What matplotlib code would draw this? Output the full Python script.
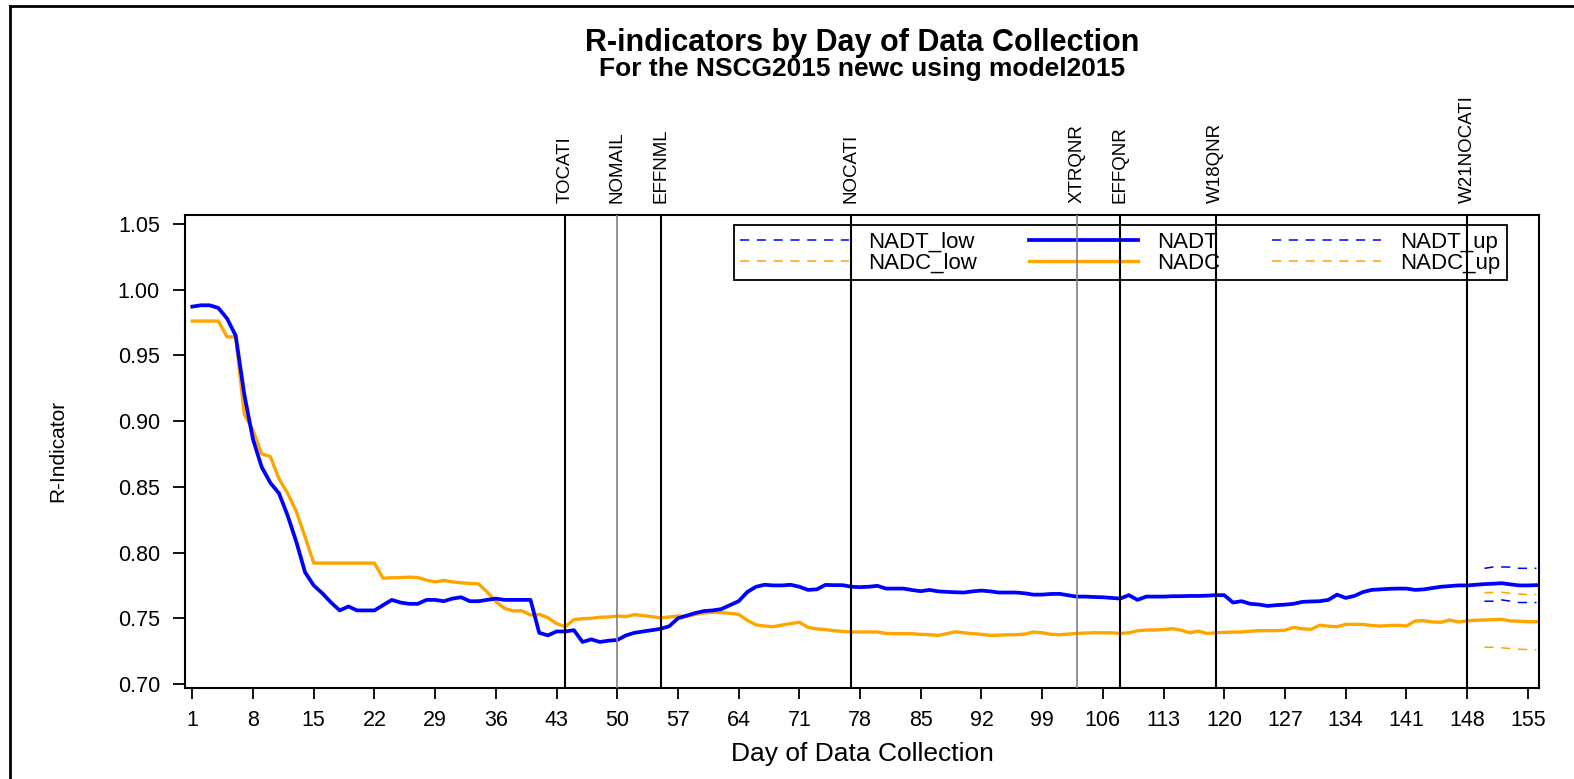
import matplotlib
matplotlib.use("Agg")
import matplotlib.pyplot as plt
from matplotlib.lines import Line2D
import numpy as np

plt.rcParams['font.family'] = ['Liberation Sans', 'DejaVu Sans']

# R-indicator by day (days 1..156)
nadt = [0.987, 0.988, 0.988, 0.986, 0.978, 0.965, 0.920, 0.886, 0.865, 0.853,
        0.845, 0.828, 0.808, 0.785, 0.775, 0.769, 0.762, 0.756, 0.759, 0.756,
        0.756, 0.756, 0.760, 0.764, 0.762, 0.761, 0.761, 0.764, 0.764, 0.763,
        0.765, 0.766, 0.763, 0.763, 0.764, 0.765, 0.764, 0.764, 0.764, 0.764,
        0.739, 0.737, 0.740, 0.740, 0.741, 0.732, 0.734, 0.732, 0.733, 0.7335,
        0.737, 0.739, 0.740, 0.741, 0.742, 0.744, 0.750, 0.752, 0.754, 0.7555,
        0.756, 0.757, 0.760, 0.763, 0.770, 0.774, 0.7755, 0.775, 0.775, 0.7755,
        0.774, 0.7716, 0.772, 0.7754, 0.7752, 0.7752, 0.774, 0.7737, 0.774, 0.7747,
        0.7726, 0.7726, 0.7726, 0.7715, 0.7706, 0.7716, 0.7705, 0.7701, 0.7698, 0.7696,
        0.7705, 0.7711, 0.7705, 0.7696, 0.7696, 0.7696, 0.769, 0.768, 0.768, 0.7685,
        0.7686, 0.7675, 0.7665, 0.7665, 0.7662, 0.766, 0.7655, 0.765, 0.7676, 0.764,
        0.7665, 0.7665, 0.7665, 0.7668, 0.7668, 0.767, 0.767, 0.7672, 0.7676, 0.7676,
        0.762, 0.763, 0.761, 0.7605, 0.7594, 0.760, 0.7604, 0.761, 0.7625, 0.7628,
        0.763, 0.764, 0.768, 0.7655, 0.767, 0.770, 0.7716, 0.772, 0.7724, 0.7726,
        0.7726, 0.7716, 0.772, 0.773, 0.774, 0.7745, 0.775, 0.775, 0.7755, 0.776,
        0.7763, 0.7767, 0.7758, 0.775, 0.775, 0.7752]
nadc = [0.976, 0.976, 0.976, 0.976, 0.964, 0.964, 0.905, 0.893, 0.875, 0.873,
        0.856, 0.845, 0.831, 0.812, 0.792, 0.792, 0.792, 0.792, 0.792, 0.792,
        0.792, 0.792, 0.7805, 0.7808, 0.781, 0.7813, 0.781, 0.779, 0.7777, 0.7788,
        0.7777, 0.777, 0.7765, 0.7762, 0.770, 0.7627, 0.7576, 0.7556, 0.7558, 0.7525,
        0.753, 0.7505, 0.746, 0.7436, 0.749, 0.7497, 0.750, 0.7508, 0.751, 0.7518,
        0.7513, 0.7528, 0.752, 0.7513, 0.7503, 0.751, 0.7518, 0.7513, 0.753, 0.754,
        0.7546, 0.7543, 0.7538, 0.753, 0.7485, 0.745, 0.7441, 0.7436, 0.7449, 0.746,
        0.747, 0.7431, 0.742, 0.7414, 0.7406, 0.740, 0.7396, 0.7396, 0.7396, 0.7396,
        0.7385, 0.7383, 0.7383, 0.7383, 0.7378, 0.7375, 0.737, 0.7383, 0.7398, 0.739,
        0.7383, 0.7378, 0.737, 0.7372, 0.7375, 0.7375, 0.738, 0.7396, 0.739, 0.7378,
        0.7375, 0.738, 0.7385, 0.7388, 0.739, 0.739, 0.739, 0.7385, 0.739, 0.7405,
        0.7411, 0.7411, 0.7415, 0.7421, 0.741, 0.739, 0.7403, 0.7385, 0.739, 0.7393,
        0.7395, 0.7396, 0.7402, 0.7406, 0.7406, 0.7406, 0.741, 0.7431, 0.742, 0.7416,
        0.7447, 0.744, 0.7436, 0.7454, 0.7454, 0.7454, 0.7445, 0.7441, 0.7445, 0.7447,
        0.7441, 0.748, 0.7482, 0.7472, 0.747, 0.7487, 0.7472, 0.748, 0.7485, 0.7487,
        0.749, 0.7492, 0.748, 0.7478, 0.7474, 0.7474]
days = list(range(1, len(nadt) + 1))

# confidence bounds (only shown at the end)
bound_days = [150, 151, 152, 153, 154, 155, 156]
nadt_up = [0.788, 0.789, 0.789, 0.789, 0.788, 0.788, 0.788]
nadt_low = [0.763, 0.763, 0.764, 0.763, 0.762, 0.762, 0.762]
nadc_up = [0.7695, 0.7697, 0.7698, 0.769, 0.7685, 0.768, 0.768]
nadc_low = [0.728, 0.728, 0.7276, 0.727, 0.7265, 0.7262, 0.726]

# events
event_days = [44, 50, 55, 77, 103, 108, 119, 148]
event_names = ['TOCATI', 'NOMAIL', 'EFFNML', 'NOCATI', 'XTRQNR', 'EFFQNR', 'W18QNR', 'W21NOCATI']
event_gray = ['NOMAIL', 'XTRQNR']

BLUE = '#0000FF'
ORANGE = '#FFA500'
dash = (0, (6, 5))

fig = plt.figure(figsize=(15.74, 7.79), dpi=100)
ax = fig.add_axes([0.1175, 0.1168, 0.8603, 0.6078])

ax.plot(bound_days, nadt_low, color=BLUE, lw=1.1, ls=dash, label='NADT_low', zorder=2)
ax.plot(bound_days, nadc_low, color=ORANGE, lw=1.1, ls=dash, label='NADC_low', zorder=2)
ax.plot(days, nadt, color=BLUE, lw=2.7, label='NADT', zorder=2.5)
ax.plot(days, nadc, color=ORANGE, lw=2.4, label='NADC', zorder=2.4)
ax.plot(bound_days, nadt_up, color=BLUE, lw=1.1, ls=dash, label='NADT_up', zorder=2)
ax.plot(bound_days, nadc_up, color=ORANGE, lw=1.1, ls=dash, label='NADC_up', zorder=2)

for d, name in zip(event_days, event_names):
    gray = name in event_gray
    ax.axvline(d, color='#808080' if gray else 'black', lw=1.2 if gray else 1.5, zorder=4)
    ax.text(d, 1.0575 + 0.008, name, rotation=90, ha='center', va='bottom',
            fontsize=13.5, clip_on=False)

ax.set_xlim(0.15, 156.3)
ax.set_ylim(0.697, 1.057)
ax.set_xticks(range(1, 156, 7))
ax.set_yticks(np.arange(0.70, 1.051, 0.05))
ax.yaxis.set_major_formatter(matplotlib.ticker.FormatStrFormatter('%.2f'))
ax.tick_params(axis='y', length=9, width=1.3, pad=9, labelsize=15.5)
ax.tick_params(axis='x', length=8, width=1.3, pad=8, labelsize=15.5)
for s in ax.spines.values():
    s.set_linewidth(1.5)

ax.set_xlabel('Day of Data Collection', fontsize=19, labelpad=8)
ax.set_ylabel('R-Indicator', fontsize=15)
ax.yaxis.set_label_coords(-0.087, 0.5)

leg = ax.legend(ncol=3, loc='upper right', bbox_to_anchor=(0.9764, 0.978),
                borderaxespad=0, fontsize=16, handlelength=4.9, handletextpad=0.85,
                columnspacing=2.35, labelspacing=0.0, borderpad=0.3,
                fancybox=False, edgecolor='black', framealpha=1)
leg.get_frame().set_linewidth(1.3)
leg.set_zorder(3)

cx = (0.1175 + 0.1175 + 0.8603) / 2
fig.text(cx, 1 - 43 / 779, 'R-indicators by Day of Data Collection', ha='center', va='center',
         fontsize=22, fontweight='bold')
fig.text(cx, 1 - 69 / 779, 'For the NSCG2015 newc using model2015', ha='center', va='center',
         fontsize=19, fontweight='bold')

# outer frame lines (top and left)
fig.add_artist(Line2D([0.0064, 1.0], [0.992, 0.992], color='black', lw=2, transform=fig.transFigure))
fig.add_artist(Line2D([0.0064, 0.0064], [0.0, 0.992], color='black', lw=2, transform=fig.transFigure))

fig.savefig('out.png', dpi=100)
